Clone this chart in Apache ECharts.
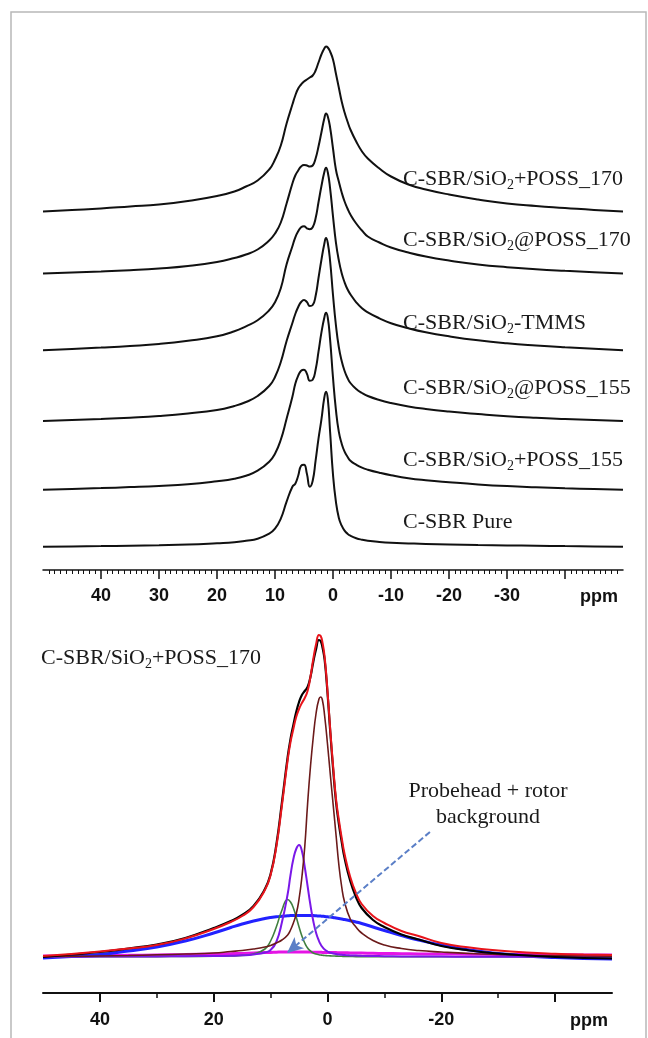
<!DOCTYPE html>
<html><head><meta charset="utf-8">
<script src="https://cdn.jsdelivr.net/npm/echarts/dist/echarts.min.js"></script>
<style>html,body{margin:0;padding:0;background:#fff}#c{width:648px;height:1038px}</style>
</head><body><div id="c"></div>
<script>
// chemical shift sample points (ppm)
const ppm = [50,45,40,35,30,25,20,17,15,13,11,10,9,8,7,6.5,6,5.5,5,4.5,4,3.5,3,2.5,2,1.5,1.2,0.9,0.5,0,-0.5,-1,-1.5,-2,-2.5,-3,-4,-5,-6,-8,-10,-13,-16,-20,-25,-30,-35,-40,-45,-50];

// top panel: stacked spectra (intensity above own baseline)
const specPOSS170plus = [0,1.5,3,5,7,10.5,15.5,20,25,31,42,52,66,88,107,116,123,127,130,132,134,136,141,149,157,163,165,164,160,152,138,124,110,99,90,82,70,60,53,43,35,27,22,17,12,8,5.5,3.5,1.5,0];
const specPOSS170at = [0,1,2,3.3,5,7.5,11.5,15.5,19,24,33,40,51,70,90,98,103,107,108.5,108,107,108,115,127,141,155,160,157,146,125,104,92,81,72,65,59,50,43,37,31,26,21,17,13,9,6.3,4.3,2.7,1.3,0];
const specTMMS = [0,1.3,2.7,4.3,6.3,9.5,14,19,24,30,40,48,62,86,104,113,119,123,124,122,121,123,132,148,164,178,182.5,178,162,134,108,90,77,68,61,56,48,42,38,32,27,22,18,14,10,7,4.8,3,1.5,0];
const specPOSS155at = [0,1,2,3.3,5,7.5,11,15,19,25,35,44,59,80,98,107,114,119,121,119,115,116,125,143,161,177,183,178,160,126,96,74,60,50,43,38,32,28,25,21,18,14.5,12,9.5,7,4.8,3.2,2,1,0];
const specPOSS155plus = [0,0.8,1.6,2.6,3.8,5.5,8.5,11,14,19,28,36,50,71,93,106,114,119,120,116,109,110,120,138,157,172,177,172,150,112,80,58,46,38,33,29,25,22,20,17,14.5,11.5,9.5,7.5,5.3,3.6,2.4,1.4,0.7,0];
const specPure = [0,0.3,0.6,1,1.5,2.2,3.5,4.5,6,8,13,18,28,45,60,63,71,81,82,73,60,66,86,108,127,149,155,148,115,72,45,29,21,16,13,11,8.5,7,6,4.8,4,3.3,2.7,2.2,1.7,1.3,1,0.6,0.3,0];
const topSpectra = [specPOSS170plus, specPOSS170at, specTMMS, specPOSS155at, specPOSS155plus, specPure];
const topOffsets = [358.5, 296.5, 219.7, 149, 80.3, 23.3];
const topNames = ['C-SBR/SiO2+POSS_170','C-SBR/SiO2@POSS_170','C-SBR/SiO2-TMMS','C-SBR/SiO2@POSS_155','C-SBR/SiO2+POSS_155','C-SBR Pure'];
const topLabelsRich = ['C-SBR/SiO{s|2}+POSS_170','C-SBR/SiO{s|2}@POSS_170','C-SBR/SiO{s|2}-TMMS','C-SBR/SiO{s|2}@POSS_155','C-SBR/SiO{s|2}+POSS_155','C-SBR Pure'];

// bottom panel: deconvolution of C-SBR/SiO2+POSS_170
const expData = [0,2.5,5,8.5,12.5,19,29,36,42,51,68,83,112,155,200,218,232,245,255,262,266,270,280,295,308,317,316,310,297,264,224,187,155,133,115,99,76,60,49,37,30,22.5,17.5,11,6.5,3.5,1.5,0,-1,-1.5];
const fitSum = [1,3,5.5,8.5,12,18.5,28,35,41,50,67,82,110,152,197,215,228,240,248,254,259,266,280,298,313,322,321,315,300,266,226,190,158,137,119,103,80,64,53,41,34,26,21,14,9.5,6.5,4.5,3.3,2.5,2];
const compMain = [0.5,0.7,1,1.5,2.2,3,4,5.5,6.5,8,10,11.5,14,17,22,27,34,43,58,80,110,153,190,220,244,258,260,257,241,213,182,152,122,92,70,55,38,30,24,16.5,12,8.5,6.5,5,3.5,2.5,1.8,1.3,1,0.8];
const compPurple = [0.3,0.3,0.4,0.5,0.6,0.8,1,1.3,1.7,2.6,4.5,7,15,35,63,82,98,108,112,106,90,71,52,36,24,16,12.5,10,7.5,5.5,4.3,3.5,2.9,2.5,2.2,1.9,1.6,1.4,1.2,1,0.8,0.6,0.5,0.4,0.3,0.3,0.2,0.2,0.2,0.2];
const compGreen = [0.2,0.2,0.3,0.3,0.4,0.5,0.8,1.1,1.5,3,8,16,30,47,57.5,55,49,40,30,21,14,9,6,4,3,2.3,2,1.8,1.5,1.3,1.1,1,0.9,0.8,0.7,0.6,0.5,0.4,0.4,0.3,0.3,0.3,0.2,0.2,0.2,0.2,0.2,0.1,0.1,0.1];
const compBroad = [-1,0.5,2.5,6,10,16,24,29.5,33,36,38.5,39.5,40.2,40.8,41.2,41.4,41.5,41.6,41.6,41.6,41.6,41.5,41.5,41.4,41.2,41,40.9,40.8,40.5,40.2,39.9,39.5,39,38.5,38,37.5,36.3,35,33.5,30,26.5,21.5,17,12,7,3.5,1,-0.5,-1.5,-2];
const probeBg = [1,1.2,1.5,1.7,2,2.4,3,3.3,3.6,4,4.4,4.6,4.8,5,5.1,5.1,5.1,5.1,5,5,5,4.9,4.9,4.8,4.8,4.7,4.7,4.6,4.6,4.5,4.5,4.4,4.4,4.3,4.3,4.2,4.1,4,3.9,3.7,3.5,3.3,3.1,3,2.8,2.5,2.4,2.2,2.1,2];

// arrow annotation (ppm, intensity)
const arrowFrom = [-18, 125];
const arrowTo = [7.1, 4];

// tick labels
const topTicks = [40,30,20,10,0,-10,-20,-30,-40];
const topTickLabels = [40,30,20,10,0,-10,-20,-30];
const bottomMajorTicks = [40,20,0,-20,-40];
const bottomMinorTicks = [30,10,-10,-30];
const bottomTickLabels = [40,20,0,-20];

const chart = echarts.init(document.getElementById('c'), null, {renderer:'canvas'});
const pair = (arr, off) => ppm.map((x, i) => [x, arr[i] + (off || 0)]);

const labelFont = {color:'#111', fontFamily:'Liberation Sans', fontWeight:'bold', fontSize:18};
const series = [];
topSpectra.forEach((arr, k) => {
  series.push({name: topNames[k], type:'line', xAxisIndex:0, yAxisIndex:0, data: pair(arr, topOffsets[k]),
    showSymbol:false, smooth:0.5, lineStyle:{color:'#111', width:2}, silent:true});
});
const bottom = [
  {name:'Probehead + rotor background', d: probeBg, c:'#e514e5', w:3},
  {name:'Broad component', d: compBroad, c:'#2222ff', w:3},
  {name:'Component 7 ppm', d: compGreen, c:'#3f7f3f', w:1.6},
  {name:'Component 5 ppm', d: compPurple, c:'#7a18e8', w:2},
  {name:'Component 1.3 ppm', d: compMain, c:'#6b1a1a', w:1.6},
  {name:'Experimental', d: expData, c:'#000', w:2.2},
  {name:'Fit', d: fitSum, c:'#e8141b', w:2}
];
bottom.forEach((b, i) => {
  const s = {name:b.name, type:'line', xAxisIndex:1, yAxisIndex:1, data: pair(b.d), showSymbol:false,
    smooth:0.5, lineStyle:{color:b.c, width:b.w}, silent:true};
  if (i === 0) {
    s.markLine = {silent:true, symbol:['none','arrow'], symbolSize:[11,16], label:{show:false},
      lineStyle:{type:[6,3], color:'#5b7fc7', width:2}, itemStyle:{color:'#5b7fc7'},
      data:[[{coord: arrowFrom}, {coord: arrowTo}]]};
  }
  series.push(s);
});

const textStyle = (txt, x, y, align) => ({
  type:'text', x, y, silent:true,
  style:{text: txt, fill:'#1a1a1a', fontFamily:'Liberation Serif', fontSize:22,
    align: align || 'left', verticalAlign:'middle', textAlign: align || 'left', textVerticalAlign:'middle',
    rich:{s:{fontSize:14, fontFamily:'Liberation Serif', fill:'#1a1a1a', padding:[13,0,0,0]}}}
});
const topLabelY = [179, 240, 323, 388, 460, 522];
const graphics = [
  {type:'rect', shape:{x:11, y:12, width:635, height:1040}, style:{fill:'none', stroke:'#b8b8b8', lineWidth:1.5}, silent:true, z:-1}
];
topLabelsRich.forEach((t, k) => graphics.push(textStyle(t, 403, topLabelY[k])));
graphics.push(textStyle('C-SBR/SiO{s|2}+POSS_170', 41, 658));
graphics.push(textStyle('Probehead + rotor', 488, 791, 'center'));
graphics.push(textStyle('background', 488, 817, 'center'));
graphics.push({type:'text', x:599, y:597, silent:true, style:{text:'ppm', fill:'#111', fontFamily:'Liberation Sans', fontWeight:'bold', fontSize:18, align:'center', verticalAlign:'middle', textAlign:'center', textVerticalAlign:'middle'}});
graphics.push({type:'text', x:589, y:1021, silent:true, style:{text:'ppm', fill:'#111', fontFamily:'Liberation Sans', fontWeight:'bold', fontSize:18, align:'center', verticalAlign:'middle', textAlign:'center', textVerticalAlign:'middle'}});

chart.setOption({
  animation:false,
  backgroundColor:'#fff',
  grid:[{left:43, right:25, top:30, height:540}, {left:43, right:36, top:620, height:373}],
  xAxis:[
    {gridIndex:0, type:'value', position:'bottom', inverse:true, min:-50, max:50, interval:10,
     axisLine:{onZero:false, lineStyle:{color:'#111', width:1.5}},
     axisTick:{customValues: topTicks, length:9, lineStyle:{color:'#111', width:1.5}},
     minorTick:{show:true, splitNumber:10, length:4, lineStyle:{color:'#111', width:1}},
     axisLabel:Object.assign({customValues: topTickLabels, margin:17}, labelFont),
     splitLine:{show:false}},
    {gridIndex:1, type:'value', position:'bottom', inverse:true, min:-50, max:50, interval:10,
     axisLine:{onZero:false, lineStyle:{color:'#111', width:2}},
     axisTick:{customValues: bottomMajorTicks, length:9, lineStyle:{color:'#111', width:2}},
     axisLabel:Object.assign({customValues: bottomTickLabels, margin:18}, labelFont),
     splitLine:{show:false}},
    {gridIndex:1, type:'value', position:'bottom', offset:0, inverse:true, min:-50, max:50, interval:10,
     axisLine:{show:false, onZero:false},
     axisTick:{customValues: bottomMinorTicks, length:5, lineStyle:{color:'#111', width:1.5}},
     axisLabel:{show:false}, splitLine:{show:false}}
  ],
  yAxis:[
    {gridIndex:0, type:'value', min:0, max:540, show:false, splitLine:{show:false}},
    {gridIndex:1, type:'value', min:-36, max:337, show:false, splitLine:{show:false}}
  ],
  series: series,
  graphic: graphics
});
</script>
</body></html>
